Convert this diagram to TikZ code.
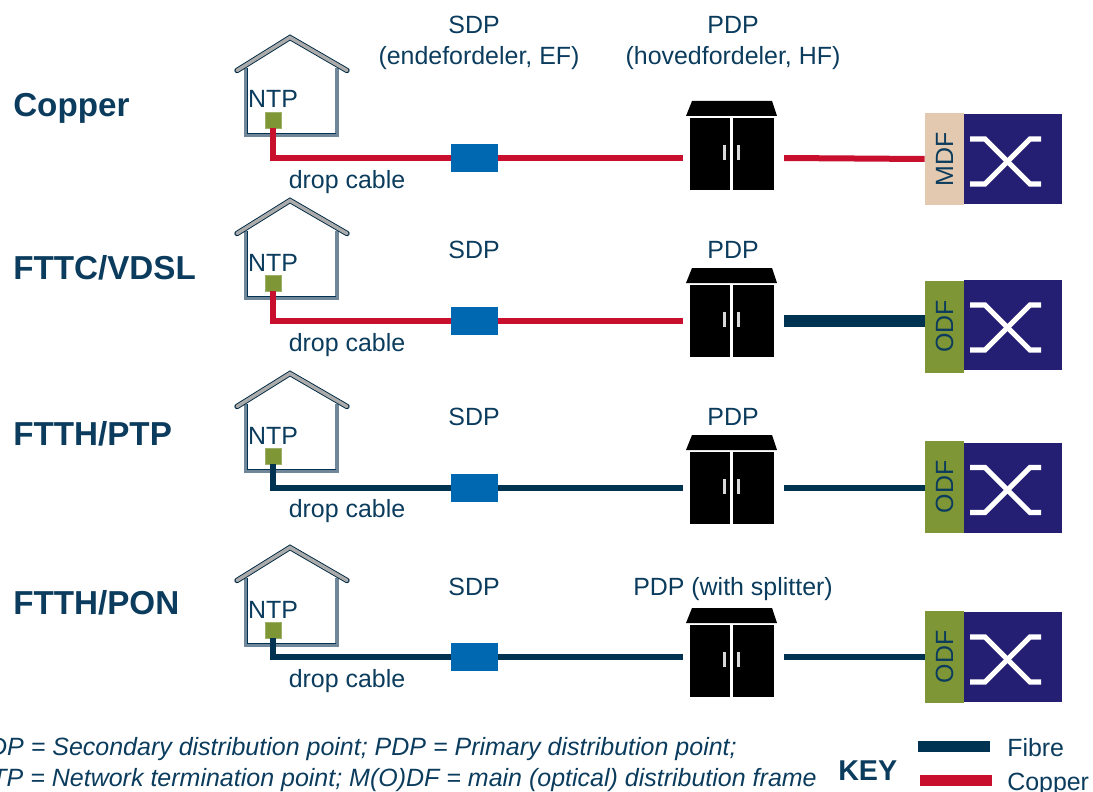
\documentclass[tikz,border=0pt]{standalone}
\usepackage{fontspec}
\setmainfont{Liberation Sans}
\definecolor{textblue}{HTML}{0B3C5D}
\definecolor{fibreblue}{HTML}{003352}
\definecolor{copperred}{HTML}{C8102E}
\definecolor{sdpblue}{HTML}{0067B1}
\definecolor{ntpgreen}{HTML}{7F9636}
\definecolor{framenavy}{HTML}{241F73}
\definecolor{frametan}{HTML}{E2C9AF}
\definecolor{wallgrey}{HTML}{6F8799}
\definecolor{roofgrey}{HTML}{ABABAB}
\tikzset{
	lbl/.style={inner sep=0pt,text=textblue,font=\fontsize{18.7}{20}\selectfont,text height=.72em,text depth=.21em,yshift=-4pt},
	rowlbl/.style={lbl,anchor=west,yshift=-2pt,font=\fontsize{24.9}{26}\selectfont\bfseries},
	notelbl/.style={lbl,anchor=east,font=\fontsize{18.75}{20}\selectfont\itshape},
	ntpbox/.style={shape=rectangle,fill=ntpgreen,draw=ntpgreen!75!white,line width=.4pt,inner sep=0pt,minimum width=12pt,minimum height=12pt},
	sdpbox/.style={shape=rectangle,fill=sdpblue,inner sep=0pt,minimum width=35.5pt,minimum height=21.5pt},
	pdpgap/.style={shape=rectangle,inner sep=0pt,minimum width=75.5pt,minimum height=10pt},
	mdfbox/.style={shape=rectangle,fill=frametan,text=textblue,font=\fontsize{18.7}{20}\selectfont,inner sep=0pt,minimum width=29.5pt,minimum height=69pt},
	odfbox/.style={mdfbox,fill=ntpgreen},
	switchbox/.style={shape=rectangle,fill=framenavy,inner sep=0pt,minimum width=73.5pt,minimum height=67.5pt},
	keybox/.style={shape=rectangle,inner sep=0pt,minimum width=54pt,minimum height=8.2pt},
	copper/.style={draw=copperred,line width=4.5pt},
	fibre/.style={draw=fibreblue,line width=4.2pt},
	fibrethick/.style={draw=fibreblue,line width=9pt},
	house/.pic={
		\draw[wallgrey,line width=2.6pt] (-44,-50) -- (-44,17) -- (47,17) -- (47,-50);
		\draw[fibreblue,line width=.8pt] (-42.5,-50) -- (-42.5,15.5) -- (45.5,15.5);
		\draw[fibreblue!80!black,line width=4pt,line cap=round] (-53,-47.5) -- (0,-80.5) -- (57,-47.5);
		\draw[roofgrey,line width=2.6pt,line cap=round] (-53,-47.5) -- (0,-80.5) -- (57,-47.5);
	},
	cabinet/.pic={
		\fill[black] (-41,0) -- (39,0) -- (44,15) -- (-47,15) -- cycle;
		\fill[black] (-43.5,17) rectangle (-3,89);
		\fill[black] (0,17) rectangle (40.5,89);
		\fill[white!85!black] (-10,44) rectangle (-7,59);
		\fill[white!85!black] (4,44) rectangle (7,59);
	},
	cross/.pic={
		\draw[white,line width=3.8pt] (-43,-20) -- (-28,-20) -- (17,25) -- (28,25);
		\draw[white,line width=3.8pt] (-43,25) -- (-28,25) -- (17,-20) -- (28,-20);
	},
}
\begin{document}
\begin{tikzpicture}[x=.75pt,y=-.75pt]
	\useasboundingbox (0,0) rectangle (1093,792);

	\node[rowlbl] (rowa) at (13,105)  {Copper};
	\node[rowlbl] (rowb) at (13,268)  {FTTC/VDSL};
	\node[rowlbl] (rowc) at (13,434)  {FTTH/PTP};
	\node[rowlbl] (rowd) at (13,603)  {FTTH/PON};

	\pic at (290,118) {house};
	\pic at (290,281) {house};
	\pic at (290,454) {house};
	\pic at (290,628) {house};

	\node[ntpbox] (ntpa) at (273,120) {};
	\node[ntpbox] (ntpb) at (273,283) {};
	\node[ntpbox] (ntpc) at (273,456) {};
	\node[ntpbox] (ntpd) at (273,630) {};
	\node[lbl] (ntplbla) at (273,99)  {NTP};
	\node[lbl] (ntplblb) at (273,263) {NTP};
	\node[lbl] (ntplblc) at (273,436) {NTP};
	\node[lbl] (ntplbld) at (273,610) {NTP};

	\node[sdpbox] (sdpa) at (474.5,158) {};
	\node[sdpbox] (sdpb) at (474.5,321) {};
	\node[sdpbox] (sdpc) at (474.5,488) {};
	\node[sdpbox] (sdpd) at (474.5,657) {};
	\node[lbl] (sdplbla) at (474,25)  {SDP};
	\node[lbl] (eflbl)   at (479,56)  {(endefordeler, EF)};
	\node[lbl] (sdplblb) at (474,250) {SDP};
	\node[lbl] (sdplblc) at (474,417) {SDP};
	\node[lbl] (sdplbld) at (474,587) {SDP};

	\node[lbl] (droplbla) at (347,180) {drop cable};
	\node[lbl] (droplblb) at (347,343) {drop cable};
	\node[lbl] (droplblc) at (347,509) {drop cable};
	\node[lbl] (droplbld) at (347,679) {drop cable};

	\node[pdpgap] (pdpa) at (733.5,158) {};
	\node[pdpgap] (pdpb) at (733.5,321) {};
	\node[pdpgap] (pdpc) at (733.5,488) {};
	\node[pdpgap] (pdpd) at (733.5,657) {};
	\pic at (733,101) {cabinet};
	\pic at (733,268) {cabinet};
	\pic at (733,435) {cabinet};
	\pic at (733,608) {cabinet};
	\node[lbl] (pdplbla) at (733,25)  {PDP};
	\node[lbl] (hflbl)   at (733,56)  {(hovedfordeler, HF)};
	\node[lbl] (pdplblb) at (733,250) {PDP};
	\node[lbl] (pdplblc) at (733,417) {PDP};
	\node[lbl] (pdplbld) at (733,587) {PDP (with splitter)};

	\node[switchbox] (swa) at (1013,159) {};
	\node[switchbox] (swb) at (1013,325) {};
	\node[switchbox] (swc) at (1013,487.5) {};
	\node[switchbox] (swd) at (1013,657) {};
	\pic at (1013,159) {cross};
	\pic at (1013,325) {cross};
	\pic at (1013,487.5) {cross};
	\pic at (1013,657) {cross};
	\node[mdfbox] (mdfa) at (944.5,159)   {\rotatebox{90}{MDF}};
	\node[odfbox] (odfb) at (944.5,326.5) {\rotatebox{90}{ODF}};
	\node[odfbox] (odfc) at (944.5,487)   {\rotatebox{90}{ODF}};
	\node[odfbox] (odfd) at (944.5,657)   {\rotatebox{90}{ODF}};

	\path[copper] (ntpa.south) |- (sdpa.west);
	\path[copper] (sdpa) edge (pdpa);
	\path[copper] (pdpa.east) edge (mdfa.west);
	\path[copper] (ntpb.south) |- (sdpb.west);
	\path[copper] (sdpb) edge (pdpb);
	\path[fibrethick] (pdpb.east) edge (pdpb.east -| odfb.west);
	\path[fibre] (ntpc.south) |- (sdpc.west);
	\path[fibre] (sdpc) edge (pdpc);
	\path[fibre] (pdpc.east) edge (pdpc.east -| odfc.west);
	\path[fibre] (ntpd.south) |- (sdpd.west);
	\path[fibre] (sdpd) edge (pdpd);
	\path[fibre] (pdpd.east) edge (pdpd.east -| odfd.west);

	\node[notelbl] (notea) at (737,747) {SDP = Secondary distribution point; PDP = Primary distribution point;};
	\node[notelbl] (noteb) at (817,778) {NTP = Network termination point; M(O)DF = main (optical) distribution frame};
	\node[rowlbl,font=\fontsize{21.5}{24}\selectfont\bfseries] (keylbl) at (838,769) {KEY};
	\node[keybox,fill=fibreblue] (keyfibre) at (954,746.5) {};
	\node[keybox,fill=copperred] (keycopper) at (956,780.5) {};
	\node[lbl,anchor=west] (fibrelbl) at (1007,748) {Fibre};
	\node[lbl,anchor=west] (copperlbl) at (1007,782) {Copper};
\end{tikzpicture}
\end{document}
